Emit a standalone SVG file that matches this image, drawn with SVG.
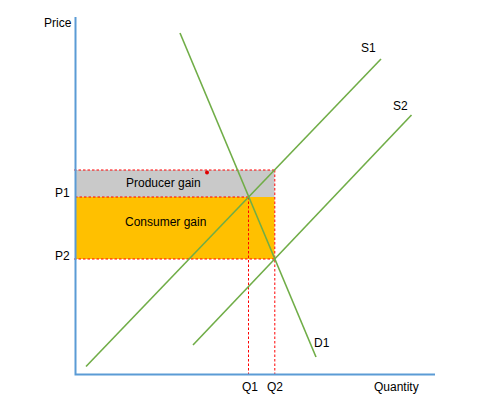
<svg xmlns="http://www.w3.org/2000/svg" width="482" height="405" viewBox="0 0 482 405">
<style>
text{font-family:"Liberation Sans",Arial,sans-serif;font-size:12px;fill:#000}
.g{stroke:#70AD47;stroke-width:1.6;fill:none}
.d{stroke:#FF0000;stroke-width:1;stroke-dasharray:2.5,2;fill:none}
.ax{stroke:#5B9BD5;stroke-width:2;fill:none}
</style>
<rect width="482" height="405" fill="#fff"/>
<g id="producer-gain">
<rect x="75" y="170" width="199.5" height="27" fill="#C9C9C9"/>
<text x="126" y="187">Producer gain</text>
</g>
<g id="consumer-gain">
<rect x="75" y="197" width="199.5" height="62" fill="#FFC000"/>
<text x="125" y="226">Consumer gain</text>
</g>
<circle cx="207" cy="172.5" r="2" fill="#E00000"/>
<g id="connectors">
<path class="d" d="M74 170H275M75 197H249M74 259H275M248.5 197V374M274.8 170V374"/>
<line class="g" x1="180" y1="33" x2="316" y2="357"/>
<line class="g" x1="86" y1="366.5" x2="381" y2="59"/>
<line class="g" x1="193" y1="345" x2="411.5" y2="115"/>
</g>
<g id="axes">
<path class="ax" d="M75.5 17V374.5H435"/>
</g>
<g id="labels">
<text x="44" y="27">Price</text>
<text x="55" y="197">P1</text>
<text x="55" y="260">P2</text>
<text x="242" y="391">Q1</text>
<text x="267" y="391">Q2</text>
<text x="374" y="391">Quantity</text>
<text x="361" y="52">S1</text>
<text x="393" y="110">S2</text>
<text x="314" y="347">D1</text>
</g>
</svg>
